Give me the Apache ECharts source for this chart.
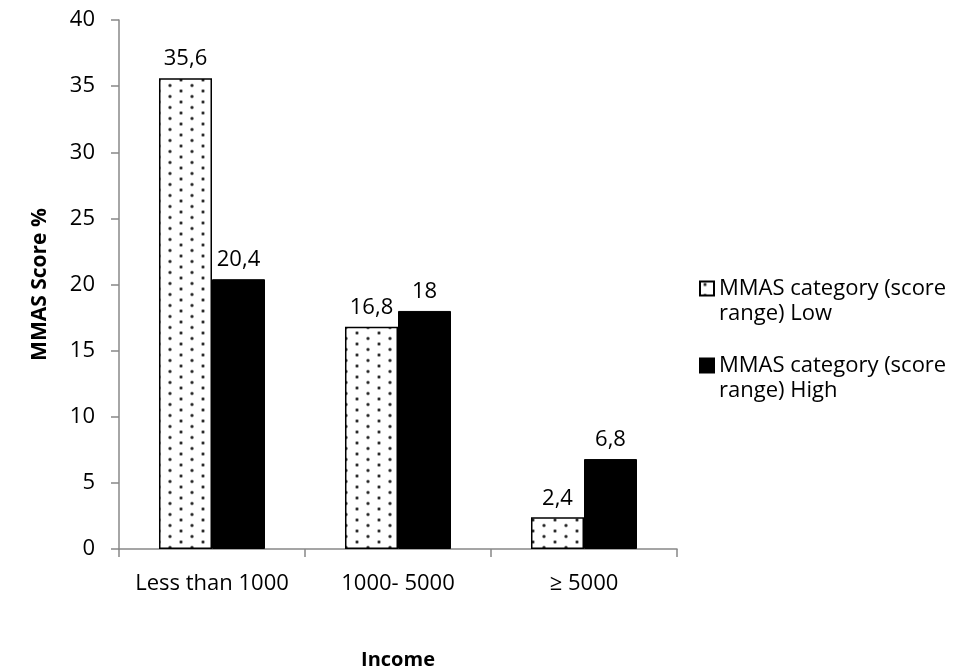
<!DOCTYPE html>
<html>
<head>
<meta charset="utf-8">
<script src="https://cdn.jsdelivr.net/npm/echarts@6/dist/echarts.min.js"></script>
<style>
  html, body { margin: 0; padding: 0; background: #fff; }
  #chart { width: 967px; height: 670px; }
</style>
</head>
<body>
<div id="chart"></div>
<script>
// Income groups and MMAS score shares (%)
const categories = ['Less than 1000', '1000- 5000', '\u2265 5000'];
const lowValues = [35.6, 16.8, 2.4];
const highValues = [20.4, 18, 6.8];
const seriesNames = ['MMAS category (score\nrange) Low', 'MMAS category (score\nrange) High'];
const yTicks = { min: 0, max: 40, interval: 5 };

// Staggered dot fill for the "Low" bars
function makeDotPattern() {
  const c = document.createElement('canvas');
  c.width = 22; c.height = 11;
  const g = c.getContext('2d');
  g.fillStyle = '#ffffff';
  g.fillRect(0, 0, 22, 11);
  const dot = (x, y) => {
    g.fillStyle = 'rgba(60,60,60,0.45)';
    g.beginPath(); g.arc(x, y, 2, 0, Math.PI * 2); g.fill();
    g.fillStyle = '#262626';
    g.beginPath(); g.arc(x, y, 1.2, 0, Math.PI * 2); g.fill();
  };
  dot(5, 3);
  dot(16, 8.5);
  return c;
}

const FONT = '"Open Sans", sans-serif';
const FS = 22;
const fmt = p => String(p.value).replace('.', ',');

const chart = echarts.init(document.getElementById('chart'), null, { renderer: 'canvas' });
chart.setOption({
  animation: false,
  textStyle: { fontFamily: FONT, color: '#000' },
  grid: {
    left: 119, right: 290, top: 20, bottom: 121,
    containLabel: false,
    outerBoundsMode: 'none'
  },
  legend: {
    orient: 'vertical',
    left: 694,
    top: 246,
    icon: 'rect',
    itemWidth: 14,
    itemHeight: 14,
    itemGap: 2,
    // leading blank line keeps the marker level with the first text line
    formatter: name => '\n' + name,
    textStyle: { fontFamily: FONT, fontSize: FS, color: '#000', lineHeight: 25 },
    data: seriesNames
  },
  xAxis: {
    type: 'category',
    data: categories,
    name: 'Income',
    nameLocation: 'middle',
    nameGap: 101,
    nameTextStyle: { fontFamily: FONT, fontSize: 20, fontWeight: 'bold', color: '#000' },
    axisLine: { lineStyle: { color: '#888', width: 1.5 } },
    axisTick: { show: true, length: 8, alignWithLabel: false, lineStyle: { color: '#888', width: 1.5 } },
    axisLabel: { interval: 0, fontFamily: FONT, fontSize: FS, color: '#000', margin: 24 }
  },
  yAxis: {
    type: 'value',
    min: yTicks.min,
    max: yTicks.max,
    interval: yTicks.interval,
    name: 'MMAS Score %',
    nameLocation: 'middle',
    nameGap: 68,
    nameTextStyle: { fontFamily: FONT, fontSize: 21, fontWeight: 'bold', color: '#000' },
    axisLine: { show: true, lineStyle: { color: '#888', width: 1.5 } },
    axisTick: { show: true, length: 8, lineStyle: { color: '#888', width: 1.5 } },
    axisLabel: { fontFamily: FONT, fontSize: FS, color: '#000', margin: 24 },
    splitLine: { show: false }
  },
  series: [
    {
      name: seriesNames[0],
      type: 'bar',
      data: lowValues,
      barGap: '0%',
      barCategoryGap: '43%',
      itemStyle: {
        color: { image: makeDotPattern(), repeat: 'repeat' },
        borderColor: '#000',
        borderWidth: 1.5
      },
      label: { show: true, position: 'top', distance: 8, formatter: fmt, fontFamily: FONT, fontSize: FS, color: '#000' }
    },
    {
      name: seriesNames[1],
      type: 'bar',
      data: highValues,
      barGap: '0%',
      barCategoryGap: '43%',
      itemStyle: { color: '#000', borderColor: '#000', borderWidth: 1 },
      label: { show: true, position: 'top', distance: 8, formatter: fmt, fontFamily: FONT, fontSize: FS, color: '#000' }
    }
  ]
});
</script>
</body>
</html>
